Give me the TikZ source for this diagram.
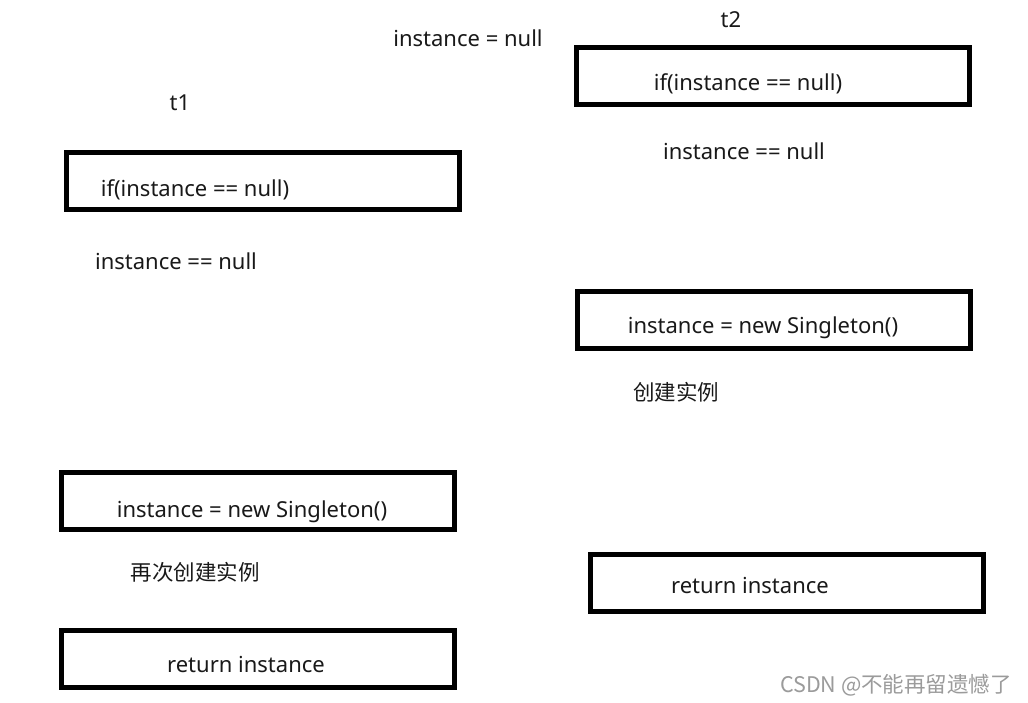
\documentclass[tikz,border=0pt]{standalone}
\usepackage{fontspec}
\setmainfont{Noto Sans}
\newfontfamily\cjk{Noto Sans CJK SC}
\definecolor{wmgray}{RGB}{155,155,155}
\begin{document}
\begin{tikzpicture}[x=1pt,y=-1pt,
  box/.style={draw=black, line width=5pt, fill=white, inner sep=0pt, outer sep=0pt,
              minimum width=393pt, minimum height=57pt},
  txt/.style={inner sep=0pt, font=\fontsize{22}{26}\selectfont, text=black!90},
  cjktxt/.style={inner sep=0pt, font=\cjk\fontsize{21.5}{26}\selectfont, text=black!90},
  wm/.style={inner sep=0pt, font=\cjk\fontsize{21.5}{25}\selectfont, text=wmgray}]
\useasboundingbox[fill=white] (0,0) rectangle (1028,703);

% boxes
\node[box] (b2a) at (773,76) {};
\node[box] (b1a) at (262.5,181) {};
\node[box] (b2b) at (774,320) {};
\node[box] (b1b) at (258,501) {};
\node[box] (b2c) at (787,583) {};
\node[box] (b1c) at (258,658.5) {};

% texts
\node[txt] (init) at (468,38) {instance = null};
\node[txt] (t2) at (731,20) {t2};
\node[txt] (t1) at (180,103) {t1};
\node[txt] (if2) at (748,84) {if(instance == null)};
\node[txt] (n2) at (744,151) {instance == null};
\node[txt] (if1) at (195,190) {if(instance == null)};
\node[txt] (n1) at (176,261) {instance == null};
\node[txt] (new2) at (763,328) {instance = new Singleton()};
\node[cjktxt] (c2) at (676,392) {创建实例};
\node[txt] (new1) at (252,512) {instance = new Singleton()};
\node[cjktxt] (c1) at (195,572) {再次创建实例};
\node[txt] (r2) at (750,586) {return instance};
\node[txt] (r1) at (246,664) {return instance};
\node[wm] (wmark) at (896,685) {CSDN @不能再留遗憾了};
\end{tikzpicture}
\end{document}
